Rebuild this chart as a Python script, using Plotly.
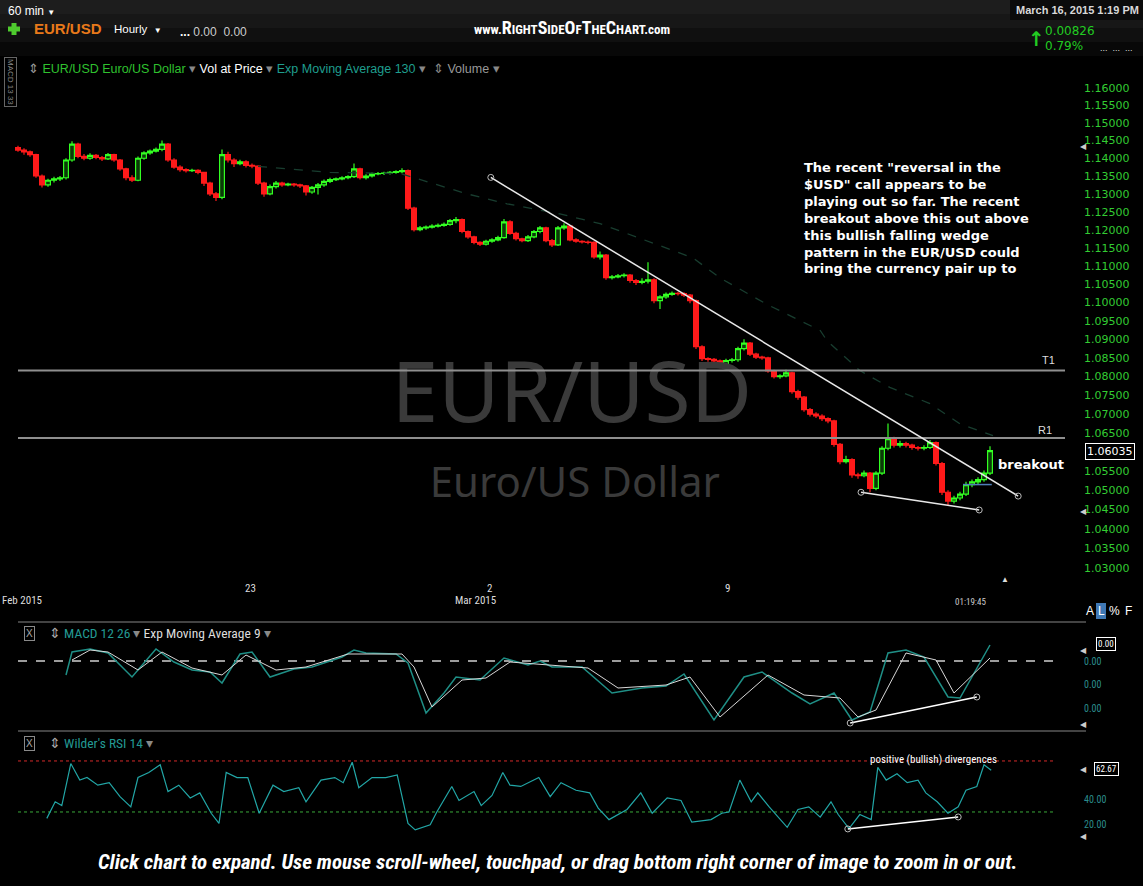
import math
import plotly.graph_objects as go

W, H = 1143, 886
PLOT_W = 1083  # price labels sit in the 60px right margin

SANS = "Liberation Sans, Arial, sans-serif"
NARROW = "Liberation Sans Narrow, Arial Narrow, Roboto Condensed, sans-serif"
VERD = "DejaVu Sans, Verdana, sans-serif"

# ---- EUR/USD, 3-hour bars (Feb 17 -> Mar 16 2015) ----
first_open = 1.1430
close = [1.1423, 1.1418, 1.1410, 1.1350, 1.1325, 1.1338, 1.1342, 1.1345, 1.1395, 1.1440,
         1.1405, 1.1400, 1.1408, 1.1402, 1.1398, 1.1410, 1.1395, 1.1370, 1.1345, 1.1338,
         1.1400, 1.1415, 1.1420, 1.1425, 1.1440, 1.1395, 1.1375, 1.1368, 1.1365, 1.1366,
         1.1360, 1.1330, 1.1300, 1.1290, 1.1410, 1.1395, 1.1385, 1.1390, 1.1380, 1.1378,
         1.1330, 1.1300, 1.1320, 1.1330, 1.1325, 1.1327, 1.1325, 1.1322, 1.1305, 1.1318,
         1.1325, 1.1335, 1.1340, 1.1342, 1.1345, 1.1348, 1.1370, 1.1345, 1.1350, 1.1356,
         1.1357, 1.1358, 1.1360, 1.1362, 1.1365, 1.1260, 1.1200, 1.1205, 1.1207, 1.1210,
         1.1212, 1.1215, 1.1225, 1.1228, 1.1195, 1.1180, 1.1165, 1.1160, 1.1168, 1.1172,
         1.1178, 1.1222, 1.1190, 1.1175, 1.1170, 1.1180, 1.1195, 1.1205, 1.1170, 1.1158,
         1.1205, 1.1210, 1.1172, 1.1168, 1.1166, 1.1165, 1.1125, 1.1130, 1.1068, 1.1070,
         1.1073, 1.1075, 1.1060, 1.1055, 1.1058, 1.1062, 1.1005, 1.1015, 1.1022, 1.1025,
         1.1024, 1.1020, 1.1005, 1.0880, 1.0848, 1.0846, 1.0842, 1.0830, 1.0843, 1.0845,
         1.0875, 1.0890, 1.0860, 1.0852, 1.0850, 1.0815, 1.0800, 1.0802, 1.0810, 1.0760,
         1.0745, 1.0712, 1.0700, 1.0695, 1.0688, 1.0682, 1.0620, 1.0575, 1.0580, 1.0540,
         1.0538, 1.0545, 1.0505, 1.0545, 1.0610, 1.0635, 1.0618, 1.0622, 1.0618, 1.0612,
         1.0610, 1.0612, 1.0625, 1.0570, 1.0495, 1.0472, 1.0480, 1.0490, 1.0515, 1.0522,
         1.0528, 1.0545, 1.06035]
high = [1.1435, 1.1428, 1.1422, 1.1413, 1.1354, 1.1342, 1.1348, 1.1350, 1.1400, 1.1448,
        1.1444, 1.1412, 1.1414, 1.1412, 1.1406, 1.1415, 1.1413, 1.1398, 1.1373, 1.1352,
        1.1405, 1.1420, 1.1425, 1.1430, 1.1450, 1.1443, 1.1400, 1.1380, 1.1372, 1.1370,
        1.1369, 1.1362, 1.1334, 1.1305, 1.1425, 1.1418, 1.1400, 1.1396, 1.1394, 1.1385,
        1.1380, 1.1334, 1.1326, 1.1336, 1.1334, 1.1331, 1.1330, 1.1328, 1.1325, 1.1322,
        1.1330, 1.1340, 1.1345, 1.1346, 1.1349, 1.1352, 1.1385, 1.1373, 1.1355, 1.1360,
        1.1361, 1.1362, 1.1364, 1.1366, 1.1372, 1.1368, 1.1264, 1.1210, 1.1212, 1.1215,
        1.1217, 1.1220, 1.1230, 1.1235, 1.1231, 1.1198, 1.1183, 1.1168, 1.1172, 1.1176,
        1.1183, 1.1230, 1.1226, 1.1194, 1.1178, 1.1185, 1.1199, 1.1210, 1.1208, 1.1174,
        1.1210, 1.1218, 1.1213, 1.1176, 1.1171, 1.1170, 1.1168, 1.1140, 1.1133, 1.1075,
        1.1078, 1.1080, 1.1078, 1.1064, 1.1066, 1.1110, 1.1066, 1.1020, 1.1027, 1.1030,
        1.1029, 1.1028, 1.1023, 1.1008, 1.0884, 1.0852, 1.0850, 1.0846, 1.0848, 1.0850,
        1.0880, 1.0900, 1.0893, 1.0864, 1.0856, 1.0853, 1.0818, 1.0806, 1.0818, 1.0813,
        1.0765, 1.0748, 1.0716, 1.0705, 1.0700, 1.0692, 1.0685, 1.0624, 1.0590, 1.0584,
        1.0546, 1.0552, 1.0548, 1.0550, 1.0615, 1.0675, 1.0640, 1.0630, 1.0627, 1.0622,
        1.0616, 1.0618, 1.0632, 1.0628, 1.0574, 1.0500, 1.0486, 1.0496, 1.0522, 1.0528,
        1.0534, 1.0552, 1.0615]
low = [1.1418, 1.1410, 1.1404, 1.1345, 1.1318, 1.1320, 1.1332, 1.1336, 1.1340, 1.1390,
       1.1400, 1.1394, 1.1396, 1.1397, 1.1392, 1.1395, 1.1390, 1.1365, 1.1338, 1.1333,
       1.1335, 1.1396, 1.1410, 1.1416, 1.1420, 1.1390, 1.1370, 1.1362, 1.1360, 1.1361,
       1.1355, 1.1322, 1.1294, 1.1280, 1.1285, 1.1388, 1.1375, 1.1380, 1.1374, 1.1372,
       1.1325, 1.1292, 1.1296, 1.1315, 1.1320, 1.1321, 1.1320, 1.1316, 1.1295, 1.1300,
       1.1298, 1.1320, 1.1330, 1.1336, 1.1338, 1.1341, 1.1344, 1.1340, 1.1340, 1.1346,
       1.1352, 1.1353, 1.1354, 1.1356, 1.1358, 1.1255, 1.1195, 1.1196, 1.1200, 1.1203,
       1.1206, 1.1208, 1.1211, 1.1218, 1.1190, 1.1175, 1.1160, 1.1155, 1.1156, 1.1164,
       1.1168, 1.1175, 1.1186, 1.1170, 1.1165, 1.1166, 1.1176, 1.1190, 1.1165, 1.1152,
       1.1155, 1.1200, 1.1168, 1.1164, 1.1162, 1.1160, 1.1120, 1.1118, 1.1062, 1.1063,
       1.1066, 1.1068, 1.1054, 1.1048, 1.1050, 1.1052, 1.0998, 1.0982, 1.1010, 1.1018,
       1.1019, 1.1015, 1.0998, 1.0874, 1.0842, 1.0840, 1.0836, 1.0822, 1.0826, 1.0838,
       1.0840, 1.0870, 1.0855, 1.0847, 1.0845, 1.0810, 1.0795, 1.0794, 1.0798, 1.0754,
       1.0738, 1.0706, 1.0694, 1.0690, 1.0682, 1.0676, 1.0614, 1.0568, 1.0570, 1.0533,
       1.0530, 1.0534, 1.0495, 1.0500, 1.0540, 1.0605, 1.0612, 1.0612, 1.0612, 1.0606,
       1.0604, 1.0605, 1.0608, 1.0565, 1.0488, 1.0462, 1.0466, 1.0474, 1.0485, 1.0508,
       1.0516, 1.0522, 1.0540]
opn = [first_open] + close[:-1]
bars = list(range(len(close)))

# Exp Moving Average 130 (bar index, price)
ema_x = [40, 52, 63.7, 74.8, 81.5, 90.3, 97, 102.5, 112.5, 117, 124.8, 133.7, 134.8,
         140.3, 145.3, 152, 157, 162.5]
ema_y = [1.1377, 1.1360, 1.1357, 1.1300, 1.1272, 1.1244, 1.1217, 1.1183, 1.1122, 1.1067,
         1.0995, 1.0924, 1.0897, 1.0816, 1.0771, 1.0728, 1.0674, 1.0643]

# drawn levels and wedge lines
t1_level = 1.0816
r1_level = 1.0637
level_x = [0, 174.5]
wedge_top_x = [78.8, 166.7]
wedge_top_y = [1.1346, 1.0485]
wedge_low_x = [140.5, 160.2]
wedge_low_y = [1.0495, 1.0449]
blue_x = [157.5, 162.3]
blue_y = [1.0515, 1.0515]

price_ticks = [1.160, 1.155, 1.150, 1.145, 1.140, 1.135, 1.130, 1.125, 1.120, 1.115,
               1.110, 1.105, 1.100, 1.095, 1.090, 1.085, 1.080, 1.075, 1.070, 1.065,
               1.055, 1.050, 1.045, 1.040, 1.035, 1.030]
last_price = 1.06035

# MACD 12 26 and its 9-period EMA
macd_x = [8, 9, 12, 15, 19, 23, 26, 29, 32, 34, 37, 39, 42, 46, 49, 54, 56, 58, 63, 65,
          68, 71, 73, 77, 81, 85, 87, 89, 94, 99, 104, 108, 111, 116, 121, 124, 129, 132,
          136, 139, 142, 145, 148, 151, 155, 157, 162]
macd_v = [-0.0014, 0.0009, 0.0012, 0.0008, -0.0016, 0.0012, -0.0001, -0.0009, -0.0011,
          -0.0022, 0.0007, 0.0009, -0.0016, -0.0008, -0.0006, 0.0004, 0.0011, 0.0008,
          0.0007, -0.0002, -0.0052, -0.0032, -0.0016, -0.0019, 0.0003, -0.0004, 0.0000,
          -0.0006, -0.0006, -0.0032, -0.0027, -0.0025, -0.0013, -0.0059, -0.0016, -0.0011,
          -0.0032, -0.0043, -0.0032, -0.0059, -0.0051, 0.0008, 0.0011, 0.0004, -0.0036,
          -0.0037, 0.0016]
sig_x = [9, 12, 15, 20, 24, 29, 34, 38, 43, 48, 55, 64, 66, 69, 74, 78, 82, 89, 95, 100,
         108, 112, 117, 125, 131, 137, 140, 143, 148, 153, 156, 162]
sig_v = [0.0001, 0.0011, 0.0009, -0.0009, 0.0009, -0.0007, -0.0014, 0.0006, -0.0009,
         -0.0006, 0.0007, 0.0007, -0.0006, -0.0046, -0.0019, -0.0017, -0.0001, -0.0004,
         -0.0007, -0.0027, -0.0024, -0.0016, -0.0056, -0.0014, -0.0034, -0.0037, -0.0056,
         -0.0049, 0.0008, 0.0001, -0.0032, 0.0003]
macd_div_x = [138.7, 159.8]
macd_div_y = [-0.0062, -0.0036]

# Wilder's RSI 14
rsi_x = [4.8, 6.2, 7.3, 8.8, 10.3, 11.5, 13.3, 15.2, 17, 18.8,
         20, 21.8, 23.7, 25, 26.8, 28.7, 30.3, 32.2, 33.5, 34.7,
         36.5, 38.3, 40.2, 42.5, 44.3, 46.8, 48, 50.5, 52.8, 54.2,
         55.7, 56.8, 59, 61.3, 63.2, 65, 66.2, 68.7, 69.8, 72.3,
         73.5, 76, 77.2, 79, 80.8, 82, 83.8, 86.8, 88.7, 90.5,
         93, 95.3, 96.7, 98.5, 101.5, 103.8, 105.7, 108.2, 110.5, 112.3,
         115.5, 117.3, 118.5, 120.3, 122.2, 123.3, 125.2, 127, 128.2, 130,
         131.8, 133.7, 135.5, 136.7, 138.5, 140.3, 142.2, 143.3, 144.7, 146.5,
         148.2, 150, 151.3, 153.2, 155, 156.7, 158, 159.8, 161, 162.2]
rsi_v = [25, 38, 35, 68, 55, 57, 51, 53, 42, 34,
         57, 61, 67, 46, 51, 41, 45, 29, 21, 61,
         57, 57, 29, 51, 46, 49, 38, 55, 57, 53,
         69, 49, 57, 57, 59, 21, 16, 20, 30, 50,
         39, 46, 35, 43, 61, 51, 50, 57, 42, 53,
         47, 45, 33, 24, 32, 45, 29, 41, 39, 22,
         24, 29, 30, 55, 38, 45, 34, 24, 18, 32,
         34, 26, 38, 28, 17, 28, 24, 65, 55, 60,
         53, 55, 45, 38, 29, 34, 47, 50, 67, 62.67]
rsi_div_x = [138.3, 156.7]
rsi_div_y = [16.7, 26.1]
ref_x = [0, 173]

# x-axis date labels (bar index)
day_labels = ["23", "2", "9"]
day_pos = [38.7, 78.5, 118.3]
month_labels = ["Feb 2015", "Mar 2015"]
month_pos = [0.6, 76.2]


def px(x):
    return x / PLOT_W


def py(y):
    return 1 - y / H


fig = go.Figure()

# watermark, sits under everything in the price panel
fig.add_trace(go.Scatter(x=[92.3], y=[1.0736], mode="text", text=["EUR/USD"],
                         textfont=dict(family="Noto Sans", size=84, color="#3a3a3a"),
                         hoverinfo="skip", xaxis="x", yaxis="y"))
fig.add_trace(go.Scatter(x=[92.8], y=[1.0510], mode="text", text=["Euro/US Dollar"],
                         textfont=dict(family="Noto Sans", size=42, color="#3a3a3a"),
                         hoverinfo="skip", xaxis="x", yaxis="y"))

fig.add_trace(go.Scatter(x=ema_x, y=ema_y, mode="lines",
                         line=dict(color="#183d2f", width=1.3, dash="dash"),
                         hoverinfo="skip", xaxis="x", yaxis="y"))
for lvl in [t1_level, r1_level]:
    fig.add_trace(go.Scatter(x=level_x, y=[lvl, lvl], mode="lines",
                             line=dict(color="#8f8f8f", width=2),
                             hoverinfo="skip", xaxis="x", yaxis="y"))

fig.add_trace(go.Candlestick(
    x=bars, open=opn, high=high, low=low, close=close,
    increasing=dict(line=dict(color="#33ff22", width=1.2), fillcolor="#0b3a08"),
    decreasing=dict(line=dict(color="#ff1a1a", width=1.2), fillcolor="#ff1a1a"),
    whiskerwidth=0, xaxis="x", yaxis="y"))

for xs, ys in [(wedge_top_x, wedge_top_y), (wedge_low_x, wedge_low_y)]:
    fig.add_trace(go.Scatter(x=xs, y=ys, mode="lines+markers",
                             line=dict(color="#e8e8e8", width=1.5),
                             marker=dict(symbol="circle-open", size=6, color="#bbbbbb",
                                         line=dict(width=1)),
                             hoverinfo="skip", xaxis="x", yaxis="y"))
fig.add_trace(go.Scatter(x=blue_x, y=blue_y, mode="lines",
                         line=dict(color="#4f7fb8", width=1.5),
                         hoverinfo="skip", xaxis="x", yaxis="y"))

# MACD panel
fig.add_trace(go.Scatter(x=ref_x, y=[0, 0], mode="lines",
                         line=dict(color="#cfcfcf", width=1.5, dash="dash"),
                         hoverinfo="skip", xaxis="x2", yaxis="y2"))
fig.add_trace(go.Scatter(x=macd_x, y=macd_v, mode="lines",
                         line=dict(color="#1f8f86", width=1.5),
                         hoverinfo="skip", xaxis="x2", yaxis="y2"))
fig.add_trace(go.Scatter(x=sig_x, y=sig_v, mode="lines",
                         line=dict(color="#d8d8d8", width=1),
                         hoverinfo="skip", xaxis="x2", yaxis="y2"))
fig.add_trace(go.Scatter(x=macd_div_x, y=macd_div_y, mode="lines+markers",
                         line=dict(color="#ffffff", width=1.5),
                         marker=dict(symbol="circle-open", size=6, color="#bbbbbb"),
                         hoverinfo="skip", xaxis="x2", yaxis="y2"))

# RSI panel
fig.add_trace(go.Scatter(x=ref_x, y=[70, 70], mode="lines",
                         line=dict(color="#d42a2a", width=1, dash="dot"),
                         hoverinfo="skip", xaxis="x3", yaxis="y3"))
fig.add_trace(go.Scatter(x=ref_x, y=[30, 30], mode="lines",
                         line=dict(color="#3aa83a", width=1, dash="dot"),
                         hoverinfo="skip", xaxis="x3", yaxis="y3"))
fig.add_trace(go.Scatter(x=rsi_x, y=rsi_v, mode="lines",
                         line=dict(color="#22a6a6", width=1.2),
                         hoverinfo="skip", xaxis="x3", yaxis="y3"))
fig.add_trace(go.Scatter(x=rsi_div_x, y=rsi_div_y, mode="lines+markers",
                         line=dict(color="#ffffff", width=1.5),
                         marker=dict(symbol="circle-open", size=6, color="#bbbbbb"),
                         hoverinfo="skip", xaxis="x3", yaxis="y3"))

xrange = [-3, 177.5]
xcommon = dict(range=xrange, showticklabels=False, showgrid=False, zeroline=False,
               showline=False, ticks="", fixedrange=True)

fig.update_layout(
    width=W, height=H,
    template="none",
    paper_bgcolor="#000000", plot_bgcolor="#000000",
    margin=dict(l=0, r=W - PLOT_W, t=0, b=0),
    showlegend=False,
    hovermode=False,
    boxgap=0.2, boxgroupgap=0,
    xaxis=dict(xcommon, domain=[0, 1], anchor="y", rangeslider=dict(visible=False)),
    xaxis2=dict(xcommon, domain=[0, 1], anchor="y2"),
    xaxis3=dict(xcommon, domain=[0, 1], anchor="y3"),
    yaxis=dict(type="log", domain=[py(590), py(80)], anchor="x", side="right",
               range=[math.log10(1.0244), math.log10(1.1623)],
               tickvals=price_ticks, ticktext=[f"{v:.5f}" for v in price_ticks],
               tickfont=dict(family=VERD, size=11, color="#33cc33"),
               showgrid=False, zeroline=False, ticks="", automargin=False),
    yaxis2=dict(domain=[py(731), py(622)], anchor="x2", side="right",
                range=[-0.0070, 0.0039], tickvals=[0, -0.0023, -0.0047],
                ticktext=["0.00", "0.00", "0.00"],
                tickfont=dict(family=NARROW, size=10, color="#2b8c8c"),
                showgrid=False, zeroline=False, ticks="", automargin=False),
    yaxis3=dict(domain=[py(850), py(732)], anchor="x3", side="right",
                range=[0.2, 92.7], tickvals=[40, 20], ticktext=["40.00", "20.00"],
                tickfont=dict(family=NARROW, size=10, color="#2b8c8c"),
                showgrid=False, zeroline=False, ticks="", automargin=False),
)

# header background bands
for y0, y1, col in [(0, 14, "#1d1d1d"), (14, 28, "#171717"), (28, 42, "#101010"),
                    (42, 56, "#080808")]:
    fig.add_shape(type="rect", xref="paper", yref="paper", x0=0, x1=px(W),
                  y0=py(y1), y1=py(y0), fillcolor=col, line_width=0, layer="below")
fig.add_shape(type="rect", xref="paper", yref="paper", x0=px(1010), x1=px(W),
              y0=py(20), y1=py(0), fillcolor="#0b0b0b", line_width=0, layer="below")
# green plus
fig.add_shape(type="rect", xref="paper", yref="paper", x0=px(11.5), x1=px(16.5),
              y0=py(35), y1=py(23), fillcolor="#4ecb2e", line_width=0)
fig.add_shape(type="rect", xref="paper", yref="paper", x0=px(8), x1=px(20),
              y0=py(31.5), y1=py(26.5), fillcolor="#4ecb2e", line_width=0)
# panel separators
for yy in [622, 731]:
    fig.add_shape(type="line", xref="paper", yref="paper", x0=px(18), x1=px(1086),
                  y0=py(yy), y1=py(yy), line=dict(color="#5a5a5a", width=1.5))
# "L" highlight
fig.add_shape(type="rect", xref="paper", yref="paper", x0=px(1096), x1=px(1106),
              y0=py(619), y1=py(603), fillcolor="#3f78b5", line_width=0)


def label(text, x, y, size=11, color="#dddddd", family=SANS, xanchor="left",
          yanchor="middle", **kw):
    fig.add_annotation(text=text, x=px(x), y=py(y), xref="paper", yref="paper",
                       showarrow=False, xanchor=xanchor, yanchor=yanchor,
                       font=dict(family=family, size=size, color=color), **kw)


# top header
label('60 min <span style="font-size:8px">▼</span>', 6, 11, size=12, color="#ffffff")
label("<b>EUR/USD</b>", 32, 29, size=15, color="#e8791a")
label('Hourly  <span style="font-size:8px">▼</span>', 112, 29, size=11.5, color="#ffffff")
label('<b>...</b> <span style="color:#cccccc">0.00  0.00</span>', 178, 32, size=12,
      color="#ffffff")
big = '<span style="font-size:18px">{}</span>'
label("<b>www." + big.format("R") + "IGHT" + big.format("S") + "IDE" + big.format("O")
      + "F" + big.format("T") + "HE" + big.format("C") + "HART.com</b>",
      572, 28, size=13, color="#ffffff", family=NARROW, xanchor="center")
label("<b>March 16, 2015 1:19 PM</b>", 1077, 10, size=11, color="#d8d8d8",
      xanchor="center")
label("<b>↑</b>", 1036, 39, size=20, color="#22cc22", xanchor="center", family=VERD)
label("0.00826", 1043, 31, size=12, color="#22cc22", family=VERD)
label("0.79%", 1043, 46, size=12, color="#22cc22", family=VERD)
label("...  ...  ...", 1098, 48, size=9, color="#dddddd")

label('<span style="color:#999999">⇕</span> <span style="color:#2fc12f">EUR/USD Euro/US Dollar</span>'
      ' <span style="color:#888888">▾</span> <span style="color:#ffffff">Vol at Price</span>'
      ' <span style="color:#888888">▾</span> <span style="color:#1f9e8e">Exp Moving Average 130</span>'
      ' <span style="color:#888888">▾  ⇕</span> <span style="color:#999999">Volume</span>'
      ' <span style="color:#888888">▾</span>', 26, 69, size=12.5)
label("MACD 13 33", 10, 82, size=8, color="#888888", xanchor="center",
      textangle=90, bordercolor="#666666", borderwidth=1, borderpad=1)

# commentary
notes = ['The recent "reversal in the', '$USD" call appears to be',
         'playing out so far. The recent', 'breakout above this out above',
         'this bullish falling wedge', 'pattern in the EUR/USD could',
         'bring the currency pair up to']
label("<b>" + "<br>".join(notes) + "</b>", 802, 218.5, size=13, color="#ffffff",
      family=VERD, align="left")
label("T1", 1048, 360, size=11, color="#dddddd", xanchor="center")
label("R1", 1045, 430, size=11, color="#dddddd", xanchor="center")
label("<b>breakout</b>", 1031, 464, size=13, color="#ffffff", family=VERD,
      xanchor="center")

# price axis extras
label(f"{last_price:.5f}", 1110, 452, size=11, color="#ffffff", family=VERD,
      xanchor="center", bgcolor="#000000", bordercolor="#ffffff", borderwidth=1,
      borderpad=1)
for yy in [147, 512, 650, 724, 769, 836]:
    label("◀", 1083, yy, size=8, color="#cccccc", xanchor="center")
label("▲", 1005, 579, size=8, color="#dddddd", xanchor="center")

# date labels
for txt, pos in zip(day_labels, day_pos):
    fig.add_annotation(text=txt, x=pos, y=py(597), xref="x", yref="paper",
                       showarrow=False, font=dict(family=NARROW, size=11, color="#dddddd"))
for txt, pos in zip(month_labels, month_pos):
    fig.add_annotation(text=txt, x=pos, y=py(609), xref="x", yref="paper",
                       showarrow=False, font=dict(family=NARROW, size=11, color="#dddddd"))
label("01:19:45", 970, 602, size=9, color="#cccccc", family=NARROW, xanchor="center")
label("A", 1090, 611, size=12, color="#ffffff", xanchor="center")
label("L", 1101, 611, size=12, color="#ffffff", xanchor="center")
label("%", 1114, 611, size=12, color="#ffffff", xanchor="center")
label("F", 1128, 611, size=12, color="#ffffff", xanchor="center")

# indicator headers
for yy in [633, 743]:
    label("X", 29, yy, size=10, color="#aaaaaa", xanchor="center",
          bordercolor="#8a8a8a", borderwidth=1, borderpad=1)
label('<span style="color:#aaaaaa">⇕</span> <span style="color:#239a94">MACD 12 26</span>'
      ' <span style="color:#888888">▾</span> <span style="color:#dddddd">Exp Moving Average 9</span>'
      ' <span style="color:#888888">▾</span>', 47, 633, size=13.5, family=NARROW)
label('<span style="color:#aaaaaa">⇕</span> <span style="color:#239a94">Wilder\'s RSI 14</span>'
      ' <span style="color:#888888">▾</span>', 47, 743, size=13.5, family=NARROW)
label("0.00", 1106, 644, size=9, color="#ffffff", family=NARROW, xanchor="center",
      bgcolor="#000000", bordercolor="#ffffff", borderwidth=1, borderpad=1)
label("62.67", 1106, 769, size=9, color="#ffffff", family=NARROW, xanchor="center",
      bgcolor="#000000", bordercolor="#ffffff", borderwidth=1, borderpad=1)
label("positive (bullish) divergences", 933, 759, size=11, color="#ffffff",
      family=NARROW, xanchor="center")

# footer
label("<b><i>Click chart to expand. Use mouse scroll-wheel, touchpad, or drag bottom right "
      "corner of image to zoom in or out.</i></b>", 557, 862, size=21, color="#ffffff",
      family=NARROW, xanchor="center")

fig.write_html("out.html", config={"displayModeBar": False},
               post_script="document.body.style.margin='0';"
                           "document.body.style.background='#000';")
